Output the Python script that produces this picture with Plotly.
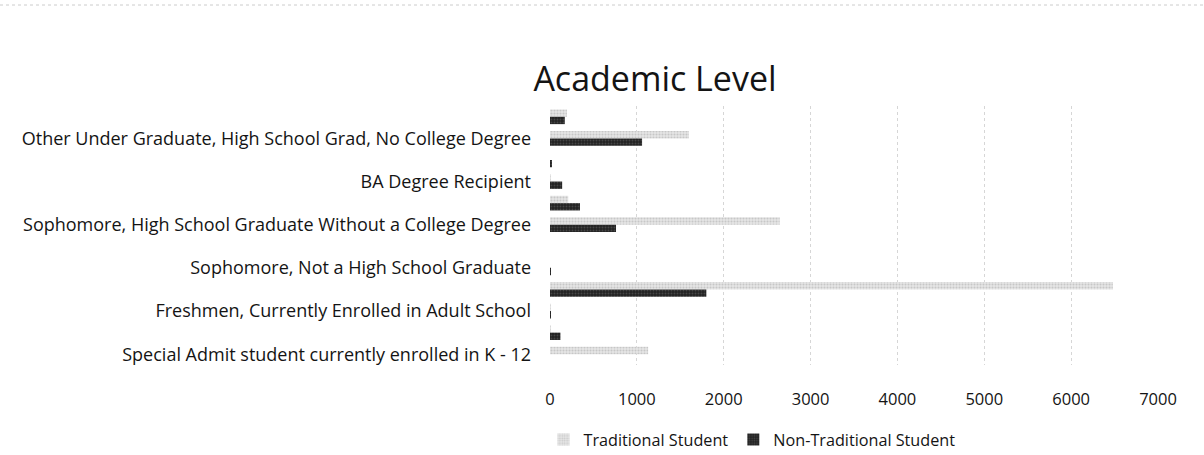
import plotly.graph_objects as go

# Categories listed top-to-bottom as they appear in the chart
categories = [
    "Other Under Graduate, AA/AS Degree Recipient",
    "Other Under Graduate, High School Grad, No College Degree",
    "Other Under Graduate, Not a High School Graduate",
    "BA Degree Recipient",
    "AA/AS Degree Recipient",
    "Sophomore, High School Graduate Without a College Degree",
    "Sophomore, Currently Enrolled in Adult School",
    "Sophomore, Not a High School Graduate",
    "Freshmen, High School Graduate Without a College Degree",
    "Freshmen, Currently Enrolled in Adult School",
    "Freshmen, Not a High School Graduate",
    "Special Admit student currently enrolled in K - 12",
]
# Only every other label is shown on the axis (as in the original)
shown_labels = [
    "Other Under Graduate, High School Grad, No College Degree",
    "BA Degree Recipient",
    "Sophomore, High School Graduate Without a College Degree",
    "Sophomore, Not a High School Graduate",
    "Freshmen, Currently Enrolled in Adult School",
    "Special Admit student currently enrolled in K - 12",
]
traditional = [195, 1600, 0, 10, 210, 2645, 0, 0, 6480, 5, 5, 1130]
non_traditional = [170, 1060, 15, 140, 345, 760, 0, 10, 1800, 8, 120, 0]
x_ticks = [0, 1000, 2000, 3000, 4000, 5000, 6000, 7000]

FONT = "Open Sans"
TXT = "#141414"

fig = go.Figure()
fig.add_trace(go.Bar(
    y=categories, x=traditional, orientation="h", name="Traditional Student",
    marker=dict(color="#d4d4d4", line=dict(width=0),
                pattern=dict(shape=".", fgcolor="#a8a8a8", bgcolor="#e6e6e6", size=3, solidity=0.4)),
))
fig.add_trace(go.Bar(
    y=categories, x=non_traditional, orientation="h", name="Non-Traditional Student",
    marker=dict(color="#2a2a2a", line=dict(width=0),
                pattern=dict(shape=".", fgcolor="#6a6a6a", bgcolor="#222222", size=3, solidity=0.3)),
))

fig.update_layout(
    width=1204, height=455,
    paper_bgcolor="white", plot_bgcolor="white",
    barmode="group", bargap=0.32, bargroupgap=0.0,
    margin=dict(l=550, r=46, t=106, b=90),
    font=dict(family=FONT, color=TXT),
    title=dict(text="Academic Level", x=655/1204, xref="container", xanchor="center",
               y=1-79/455, yref="container", yanchor="middle",
               font=dict(size=34, family=FONT, color=TXT)),
    legend=dict(orientation="h", xref="container", yref="container",
                x=752/1204, xanchor="center", y=1-440/455, yanchor="middle",
                font=dict(size=16.2, family=FONT, color=TXT),
                itemwidth=30, traceorder="normal"),
    xaxis=dict(range=[0, 7000], tickvals=x_ticks, ticktext=[str(v) for v in x_ticks],
               showgrid=True, gridcolor="#d6d6d6", griddash="dot", gridwidth=1,
               zeroline=False, showline=False, ticks="",
               tickfont=dict(size=16.5, family=FONT, color=TXT),
               ticklabelstandoff=22),
    yaxis=dict(categoryorder="array", categoryarray=categories, autorange="reversed",
               tickvals=shown_labels, ticktext=shown_labels,
               showgrid=False, zeroline=False, showline=False, ticks="",
               tickfont=dict(size=18, family=FONT, color=TXT),
               ticklabelstandoff=18),
    shapes=[dict(type="line", xref="paper", yref="paper", x0=-550/608, x1=1+46/608,
                 y0=1+101/259, y1=1+101/259,
                 line=dict(color="#cccccc", width=1, dash="dot"))],
)

fig.write_html("out.html", config={"displayModeBar": False},
               post_script="document.body.style.margin='0';")
